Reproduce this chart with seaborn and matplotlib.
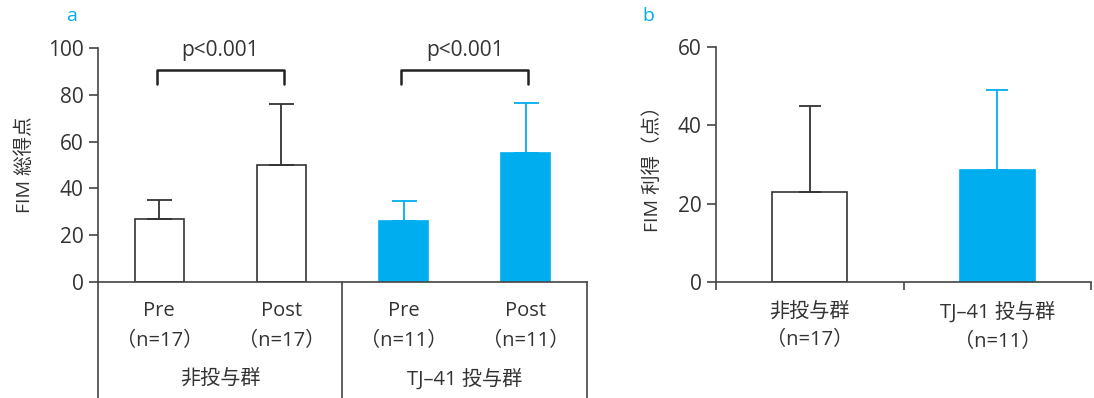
import matplotlib
matplotlib.use("Agg")
import matplotlib.pyplot as plt
import seaborn as sns
import pandas as pd
import numpy as np

# ---- data ----
labels_a = ["Pre\n（n=17）", "Post\n（n=17）", "Pre\n（n=11）", "Post\n（n=11）"]
means_a = [27, 50, 26, 55]
sds_a = [8, 26, 8.5, 21.5]
groups_a = ["非投与群", "TJ–41 投与群"]
pvals_a = ["p<0.001", "p<0.001"]

labels_b = ["非投与群\n（n=17）", "TJ–41 投与群\n（n=11）"]
means_b = [23, 28.5]
sds_b = [22, 20.5]

BLUE = "#00AEEF"
DARK = "#333333"
AX = "#444444"
colors_a = ["white", "white", BLUE, BLUE]
colors_b = ["white", BLUE]

sns.set_theme(style="ticks")
plt.rcParams["font.family"] = ["Open Sans", "Noto Sans CJK JP", "DejaVu Sans"]
plt.rcParams["text.color"] = DARK
plt.rcParams["axes.labelcolor"] = DARK
plt.rcParams["xtick.color"] = AX
plt.rcParams["ytick.color"] = AX
plt.rcParams["xtick.labelcolor"] = DARK
plt.rcParams["ytick.labelcolor"] = DARK

fig = plt.figure(figsize=(10.94, 3.98), dpi=100)
H = 398.0
W = 1094.0
ax_a = fig.add_axes([98 / W, 1 - 282 / H, (587 - 98) / W, (282 - 48) / H])
ax_b = fig.add_axes([716 / W, 1 - 282 / H, (1091 - 716) / W, (282 - 47) / H])


def draw_bars(ax, labels, means, sds, colors, capsize):
    df = pd.DataFrame({"label": labels, "mean": means})
    sns.barplot(data=df, x="label", y="mean", hue="label", palette=colors,
                width=0.4, legend=False, ax=ax, linewidth=1.2, edgecolor=DARK,
                saturation=1)
    for p, c in zip(ax.patches, colors):
        if c != "white":
            p.set_edgecolor(c)
    for i, (m, s, c) in enumerate(zip(means, sds, colors)):
        ec = DARK if c == "white" else BLUE
        ax.errorbar(i, m, yerr=[[0], [s]], fmt="none", ecolor=ec,
                    elinewidth=1.3, capsize=capsize, capthick=1.3, zorder=1)


def style(ax):
    for sp in ["top", "right"]:
        ax.spines[sp].set_visible(False)
    for sp in ["left", "bottom"]:
        ax.spines[sp].set_color(AX)
        ax.spines[sp].set_linewidth(1.2)
    ax.set_xlabel("")
    ax.tick_params(axis="y", length=6.5, width=1.2, pad=4, labelsize=15)
    ax.tick_params(axis="x", length=0, pad=14, labelsize=14.5)


# ---- panel a ----
draw_bars(ax_a, labels_a, means_a, sds_a, colors_a, capsize=9)
ax_a.set_xlim(-0.5, 3.5)
ax_a.set_ylim(0, 100)
ax_a.set_yticks([0, 20, 40, 60, 80, 100])
ax_a.set_ylabel("FIM 総得点", fontsize=14, labelpad=10)
style(ax_a)
for lab in ax_a.get_xticklabels():
    lab.set_linespacing(1.65)
ax_a.spines["left"].set_bounds(0, 100)

# dividers below axis
ext = -(398 - 282) / (282 - 48)
for xf in [0, 0.5, 1]:
    ax_a.plot([xf, xf], [0, ext], transform=ax_a.transAxes, color=AX,
              lw=1.2, clip_on=False)
# group labels
for k, g in enumerate(groups_a):
    ax_a.text(0.25 + 0.5 * k, -(379 - 282) / (282 - 48), g,
              transform=ax_a.transAxes, ha="center", va="center", fontsize=14.5)

# significance brackets
for k, pv in enumerate(pvals_a):
    x0, x1 = 2 * k - 0.02, 2 * k + 1.02
    ax_a.plot([x0, x0, x1, x1], [84.5, 90.5, 90.5, 84.5], color="#222222",
              lw=1.8, clip_on=False, solid_joinstyle="round")
    ax_a.text((x0 + x1) / 2, 99, pv, ha="center", va="center", fontsize=15,
              clip_on=False)

# ---- panel b ----
draw_bars(ax_b, labels_b, means_b, sds_b, colors_b, capsize=8)
ax_b.set_xlim(-0.5, 1.5)
ax_b.set_ylim(0, 60)
ax_b.set_yticks([0, 20, 40, 60])
ax_b.set_ylabel("FIM 利得（点）", fontsize=14, labelpad=11)
style(ax_b)
for lab in ax_b.get_xticklabels():
    lab.set_linespacing(1.6)
ax_b.set_xticks([-0.5, 0.5, 1.5], minor=True)
ax_b.tick_params(axis="x", which="minor", length=6, width=1.2, color=AX)
ax_b.tick_params(axis="x", which="major", pad=14)

# panel letters
fig.text(72 / W, 1 - 16 / H, "a", color=BLUE, fontsize=14, ha="center", va="center")
fig.text(648 / W, 1 - 16 / H, "b", color=BLUE, fontsize=14, ha="center", va="center")

fig.savefig("out.png", dpi=100)
